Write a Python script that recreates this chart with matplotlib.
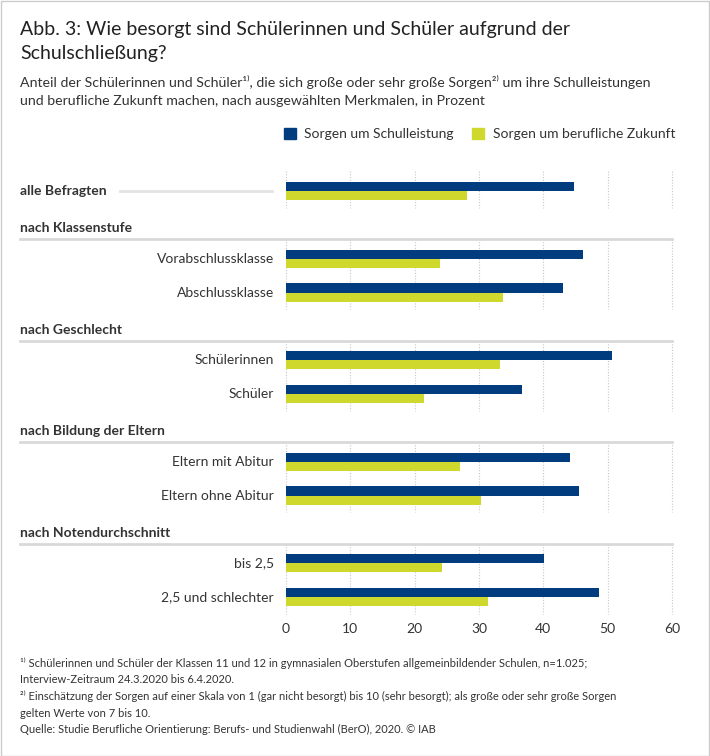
import numpy as np
import matplotlib.pyplot as plt
from matplotlib.patches import Patch, Rectangle
from matplotlib.lines import Line2D

plt.rcParams['font.family'] = ['Lato', 'DejaVu Sans']

# Daten (in Prozent)
gruppen = ['', 'nach Klassenstufe', 'nach Geschlecht', 'nach Bildung der Eltern', 'nach Notendurchschnitt']
kategorien = [['alle Befragten'],
              ['Vorabschlussklasse', 'Abschlussklasse'],
              ['Schülerinnen', 'Schüler'],
              ['Eltern mit Abitur', 'Eltern ohne Abitur'],
              ['bis 2,5', '2,5 und schlechter']]
schulleistung = [[44.8], [46.2, 43.1], [50.6, 36.7], [44.2, 45.5], [40.1, 48.6]]
zukunft = [[28.1], [24.0, 33.7], [33.2, 21.5], [27.0, 30.3], [24.2, 31.4]]
xticks = [0, 10, 20, 30, 40, 50, 60]

BLAU = '#003C7E'
GRUEN = '#CFD82C'
GRAU_LINIE = '#d9d9d9'
TEXT = '#333333'

W, H = 710, 756
fig = plt.figure(figsize=(W / 100, H / 100), dpi=100)
ax = fig.add_axes([286 / W, 1 - 615 / H, 386 / W, 445 / H])
ax.set_xlim(0, 60)
ax.set_ylim(12.53, -0.62)

def px2x(px):
    # Pixelposition -> Datenkoordinate auf der x-Achse
    return (px - 286) / 386 * 60

h = 0.27
row = 0
for g, (name, kats, s, z) in enumerate(zip(gruppen, kategorien, schulleistung, zukunft)):
    rows = np.arange(row, row + len(kats))
    ax.barh(rows - h / 2, s, height=h, color=BLAU, zorder=3)
    ax.barh(rows + h / 2, z, height=h, color=GRUEN, zorder=3)
    for r, k in zip(rows, kats):
        bold = (g == 0)
        ax.text(px2x(274) if not bold else px2x(20), r, k, ha='right' if not bold else 'left',
                va='center', fontsize=10, color=TEXT, fontweight='bold' if bold else 'normal',
                clip_on=False)
    top = rows[0] - 0.58
    ax.vlines(xticks, top, rows[-1] + 0.5, colors='#c8c8c8', linestyles=(0, (1, 1.5)),
              linewidth=0.8, zorder=1, clip_on=False)
    if name:
        ax.add_line(Line2D([px2x(20), 60], [top, top], color=GRAU_LINIE, lw=2, clip_on=False))
        ax.text(px2x(20), rows[0] - 0.9, name, ha='left', va='center', fontsize=10,
                fontweight='bold', color=TEXT, clip_on=False)
    else:
        ax.add_line(Line2D([px2x(120), px2x(272)], [rows[0], rows[0]], color='#e3e3e3',
                           lw=2, clip_on=False))
    row = rows[-1] + 2

for sp in ax.spines.values():
    sp.set_visible(False)
ax.set_yticks([])
ax.set_xticks(xticks)
ax.tick_params(axis='x', length=0, pad=6, labelsize=10, labelcolor=TEXT)

# Titel und Untertitel
fig.text(20 / W, 1 - 29 / H, 'Abb. 3: Wie besorgt sind Schülerinnen und Schüler aufgrund der',
         fontsize=14, color='#222222', va='center')
fig.text(20 / W, 1 - 54 / H, 'Schulschließung?', fontsize=14, color='#222222', va='center')
fig.text(20 / W, 1 - 82 / H,
         'Anteil der Schülerinnen und Schüler¹⁾, die sich große oder sehr große Sorgen²⁾ um ihre Schulleistungen',
         fontsize=10.2, color=TEXT, va='center')
fig.text(20 / W, 1 - 101 / H,
         'und berufliche Zukunft machen, nach ausgewählten Merkmalen, in Prozent',
         fontsize=10.2, color=TEXT, va='center')

fig.legend(handles=[Patch(color=BLAU, label='Sorgen um Schulleistung'),
                    Patch(color=GRUEN, label='Sorgen um berufliche Zukunft')],
           loc='center left', bbox_to_anchor=(271 / W, 1 - 134 / H), ncol=2, frameon=False,
           handlelength=0.9, handleheight=0.9, handletextpad=0.6, columnspacing=1.3,
           fontsize=10, labelcolor=TEXT)

fuss = ['¹⁾ Schülerinnen und Schüler der Klassen 11 und 12 in gymnasialen Oberstufen allgemeinbildender Schulen, n=1.025;',
        'Interview-Zeitraum 24.3.2020 bis 6.4.2020.',
        '²⁾ Einschätzung der Sorgen auf einer Skala von 1 (gar nicht besorgt) bis 10 (sehr besorgt); als große oder sehr große Sorgen',
        'gelten Werte von 7 bis 10.',
        'Quelle: Studie Berufliche Orientierung: Berufs- und Studienwahl (BerO), 2020. © IAB']
for i, t in enumerate(fuss):
    fig.text(20 / W, 1 - (663 + i * 16.7) / H, t, fontsize=8, color=TEXT, va='center')

fig.patches.append(Rectangle((0.5 / W, 0.5 / H), 1 - 1.5 / W, 1 - 1.5 / H, transform=fig.transFigure,
                             fill=False, edgecolor='#cccccc', lw=1))

fig.savefig('out.png', dpi=100)
